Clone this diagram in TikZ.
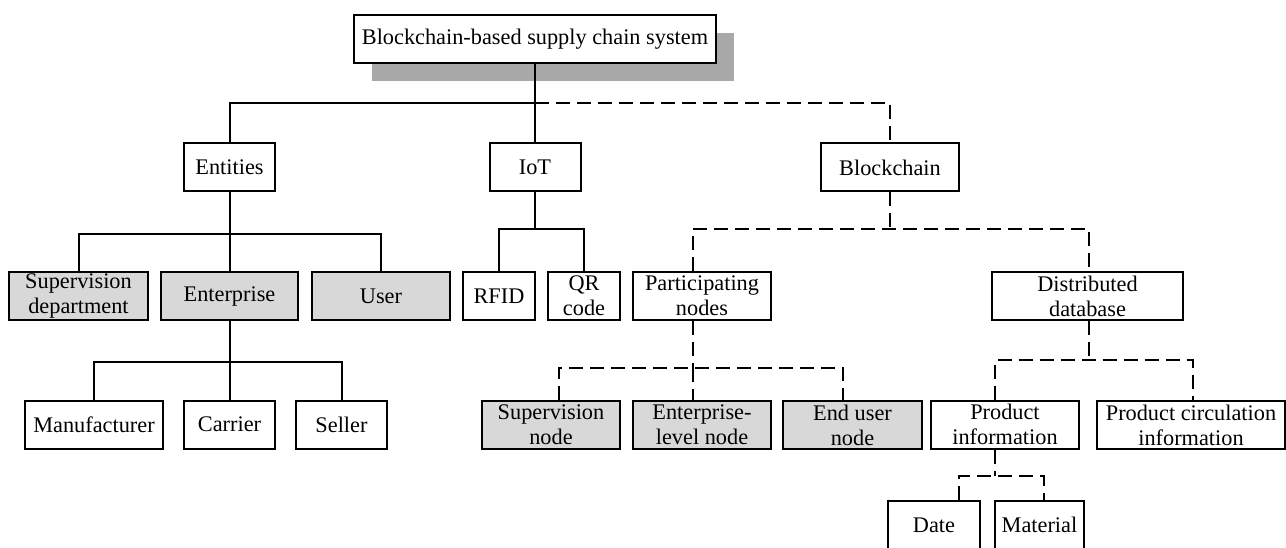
\documentclass[tikz,border=0pt]{standalone}
\usepackage{fontspec}
\setmainfont{Liberation Serif}
\definecolor{boxgray}{HTML}{D8D8D8}
\definecolor{shadowgray}{HTML}{A8A8A8}
\begin{document}
\begin{tikzpicture}[x=1pt,y=-1pt,
  box/.style={draw=black, line width=2pt, fill=white, inner sep=0pt,
    align=center, font=\fontsize{22.3}{25}\selectfont, minimum height=48pt},
  gbox/.style={box, fill=boxgray},
  ln/.style={draw=black, line width=2pt},
  dl/.style={ln, dash pattern=on 14pt off 7pt}]
\clip (0,0) rectangle (1286,548);
\fill[white] (0,0) rectangle (1286,548);

% root with drop shadow
\fill[shadowgray] (372,33) rectangle (734,81);
\node[box, minimum width=362pt] (top) at (535,39) {Blockchain-based supply chain system};

% first level
\node[box, minimum width=91pt]  (ent) at (229.5,167.5) {Entities};
\node[box, minimum width=91pt]  (iot) at (535,167.5) {IoT};
\node[box, minimum width=138pt] (bc)  at (890,167.5) {Blockchain};

% second level
\node[gbox, minimum width=139pt] (sup)  at (78.5,296) {Supervision\\department};
\node[gbox, minimum width=137pt] (entp) at (229.5,296) {Enterprise};
\node[gbox, minimum width=138pt] (usr)  at (381,296) {User};
\node[box, minimum width=72pt]   (rfid) at (499,296) {RFID};
\node[box, minimum width=72pt]   (qr)   at (584,296) {QR\\code};
\node[box, minimum width=138pt]  (part) at (702,296) {Participating\\nodes};
\node[box, minimum width=191pt]  (dd)   at (1087.5,296) {Distributed\\database};

% third level
\node[box, minimum width=138pt]  (man)  at (94,424.5) {Manufacturer};
\node[box, minimum width=91pt]   (car)  at (229.5,424.5) {Carrier};
\node[box, minimum width=91pt]   (sel)  at (341.5,424.5) {Seller};
\node[gbox, minimum width=138pt] (supn) at (551,425) {Supervision\\node};
\node[gbox, minimum width=138pt] (entn) at (702,425) {Enterprise-\\level node};
\node[gbox, minimum width=139pt] (endn) at (852.5,425) {End user\\node};
\node[box, minimum width=148pt]  (pi)   at (1005,424.5) {Product\\information};
\node[box, minimum width=188pt]  (pci)  at (1191,425) {Product circulation\\information};

% fourth level
\node[box, minimum width=92pt] (date) at (934,525) {Date};
\node[box, minimum width=89pt] (mat)  at (1039.5,525) {Material};

% junction points
\coordinate (j0) at (535,103);
\coordinate (j1) at (229.5,234);
\coordinate (j2) at (535,229);
\coordinate (j3) at (890,229);
\coordinate (j4) at (693,368);
\coordinate (j5) at (1089,360);
\coordinate (j6) at (995,476);

% root connectors
\draw[ln] (top.south) -- (j0) -| (ent.north);
\draw[ln] (j0) -- (iot.north);
\draw[dl] (j0) -| (bc.north);

% entities
\draw[ln] (ent.south) -- (j1);
\draw[ln] (sup.north) |- (j1) -| (usr.north);
\draw[ln] (j1) -- (entp.north);
\draw[ln] (entp.south) -- (229.5,362) coordinate (j7);
\draw[ln] (man.north) |- (j7) -| (sel.north);
\draw[ln] (j7) -- (car.north);

% IoT
\draw[ln] (iot.south) -- (j2);
\draw[ln] (rfid.north) |- (j2) -| (qr.north);

% blockchain
\draw[dl] (bc.south) -- (j3);
\draw[dl] ([xshift=-9pt]part.north) |- (j3) -| ([xshift=1.5pt]dd.north);

% participating nodes
\draw[dl] ([xshift=-9pt]part.south) -- (j4);
\draw[dl] ([xshift=8pt]supn.north) |- (j4) -| ([xshift=-9.5pt]endn.north);
\draw[dl] (j4) -- ([xshift=-9pt]entn.north);

% distributed database
\draw[dl] ([xshift=1.5pt]dd.south) -- (j5);
\draw[dl] ([xshift=-10pt]pi.north) |- (j5) -| ([xshift=2pt]pci.north);

% product information
\draw[dl] ([xshift=-10pt]pi.south) -- (j6);
\draw[dl] ([xshift=25pt]date.north) |- (j6) -| ([xshift=4.5pt]mat.north);
\end{tikzpicture}
\end{document}
